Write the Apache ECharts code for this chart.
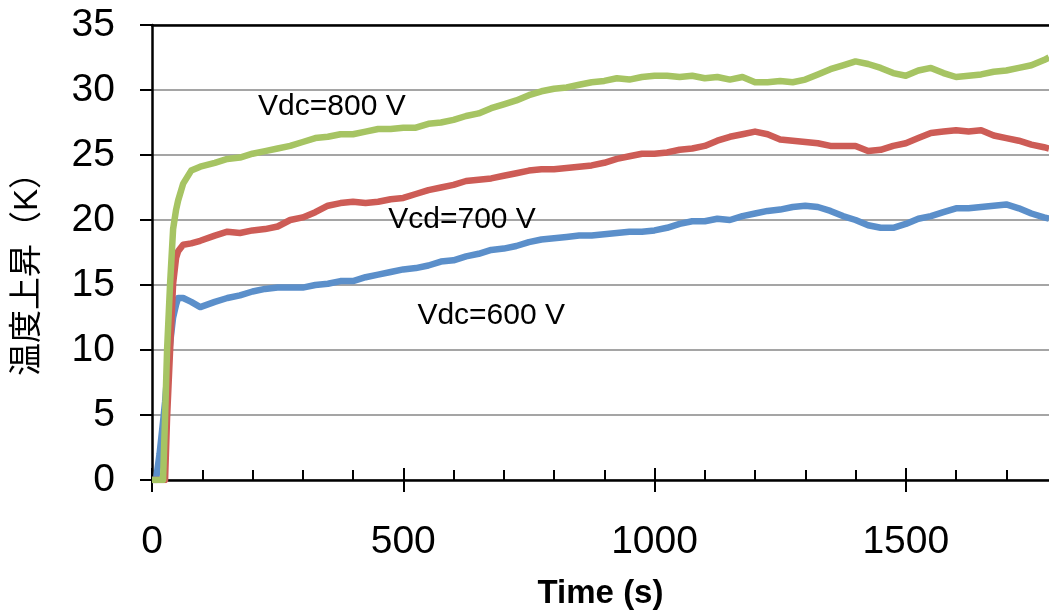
<!DOCTYPE html>
<html>
<head>
<meta charset="utf-8">
<script src="https://cdn.jsdelivr.net/npm/echarts@6/dist/echarts.min.js"></script>
<style>
  html, body { margin: 0; padding: 0; background: #fff; }
  #chart { width: 1049px; height: 612px; }
</style>
</head>
<body>
<div id="chart"></div>
<script>
// Sample times (s)
const times = [
  0, 8, 15, 22, 26, 30, 36, 42, 48, 52, 62, 78, 96, 125, 150,
  175, 200, 225, 250, 275, 300, 325, 350, 375, 400,
  425, 450, 475, 500, 525, 550, 575, 600, 625, 650,
  675, 700, 725, 750, 775, 800, 825, 850, 875, 900,
  925, 950, 975, 1000, 1025, 1050, 1075, 1100, 1125, 1150,
  1175, 1200, 1225, 1250, 1275, 1300, 1325, 1350, 1375, 1400,
  1425, 1450, 1475, 1500, 1525, 1550, 1575, 1600, 1625, 1650,
  1675, 1700, 1725, 1750, 1775, 1785
];

// Temperature rise (K), Vdc = 600 V
const rise600 = [
  0, 0, 2.0, 4.5, 6.0, 8.0, 10.5, 12.5, 13.5, 14.0, 14.0, 13.7, 13.3, 13.7, 14.0,
  14.2, 14.5, 14.7, 14.8, 14.8, 14.8, 15.0, 15.1, 15.3, 15.3,
  15.6, 15.8, 16.0, 16.2, 16.3, 16.5, 16.8, 16.9, 17.2, 17.4,
  17.7, 17.8, 18.0, 18.3, 18.5, 18.6, 18.7, 18.8, 18.8, 18.9,
  19.0, 19.1, 19.1, 19.2, 19.4, 19.7, 19.9, 19.9, 20.1, 20.0,
  20.3, 20.5, 20.7, 20.8, 21.0, 21.1, 21.0, 20.7, 20.3, 20.0,
  19.6, 19.4, 19.4, 19.7, 20.1, 20.3, 20.6, 20.9, 20.9, 21.0,
  21.1, 21.2, 20.9, 20.5, 20.2, 20.1
];

// Temperature rise (K), Vdc = 700 V
const rise700 = [
  0, 0, 0, 0, 0, 4.8, 10.0, 15.1, 17.1, 17.6, 18.1, 18.2, 18.4, 18.8, 19.1,
  19.0, 19.2, 19.3, 19.5, 20.0, 20.2, 20.6, 21.1, 21.3, 21.4,
  21.3, 21.4, 21.6, 21.7, 22.0, 22.3, 22.5, 22.7, 23.0, 23.1,
  23.2, 23.4, 23.6, 23.8, 23.9, 23.9, 24.0, 24.1, 24.2, 24.4,
  24.7, 24.9, 25.1, 25.1, 25.2, 25.4, 25.5, 25.7, 26.1, 26.4,
  26.6, 26.8, 26.6, 26.2, 26.1, 26.0, 25.9, 25.7, 25.7, 25.7,
  25.3, 25.4, 25.7, 25.9, 26.3, 26.7, 26.8, 26.9, 26.8, 26.9,
  26.5, 26.3, 26.1, 25.8, 25.6, 25.5
];

// Temperature rise (K), Vdc = 800 V
const rise800 = [
  0, 0, 0, 0, 4.8, 10.0, 15.1, 19.3, 20.8, 21.5, 22.8, 23.8, 24.1, 24.4, 24.7,
  24.8, 25.1, 25.3, 25.5, 25.7, 26.0, 26.3, 26.4, 26.6, 26.6,
  26.8, 27.0, 27.0, 27.1, 27.1, 27.4, 27.5, 27.7, 28.0, 28.2,
  28.6, 28.9, 29.2, 29.6, 29.9, 30.1, 30.2, 30.4, 30.6, 30.7,
  30.9, 30.8, 31.0, 31.1, 31.1, 31.0, 31.1, 30.9, 31.0, 30.8,
  31.0, 30.6, 30.6, 30.7, 30.6, 30.8, 31.2, 31.6, 31.9, 32.2,
  32.0, 31.7, 31.3, 31.1, 31.5, 31.7, 31.3, 31.0, 31.1, 31.2,
  31.4, 31.5, 31.7, 31.9, 32.3, 32.5
];

// Axis ticks
const xMajorTicks = [0, 500, 1000, 1500];
const xMinorTicks = [100, 200, 300, 400, 600, 700, 800, 900, 1100, 1200, 1300, 1400, 1600, 1700];

// In-plot annotations: [text, time, rise]
const annotations = [
  ['Vdc=800 V', 358, 28.7],
  ['Vcd=700 V', 617, 20.0],
  ['Vdc=600 V', 675, 12.6]
];

const FONT = "'Liberation Sans', Arial, 'Noto Sans CJK JP', sans-serif";
const toPairs = (ys) => times.map((t, i) => [t, ys[i]]);

function noteFor(idx) {
  const a = annotations[idx];
  return {
    symbol: 'rect',
    symbolSize: 1,
    silent: true,
    itemStyle: { color: 'transparent' },
    label: {
      show: true,
      position: 'inside',
      formatter: '{b}',
      color: '#000',
      fontSize: 30,
      fontFamily: FONT
    },
    data: [{ name: a[0], coord: [a[1], a[2]] }]
  };
}

function lineSeries(name, values, color, note) {
  return {
    name: name,
    type: 'line',
    data: toPairs(values),
    showSymbol: false,
    symbol: 'none',
    lineStyle: { color: color, width: 6.5, join: 'round' },
    itemStyle: { color: color },
    markPoint: note,
    z: 3
  };
}

const chart = echarts.init(document.getElementById('chart'), null, { renderer: 'canvas' });

const xBase = { type: 'value', min: 0, max: 1785, gridIndex: 0 };

chart.setOption({
  animation: false,
  backgroundColor: '#fff',
  grid: { left: 152, right: 0, top: 25, bottom: 132, containLabel: false, outerBoundsMode: 'none' },
  xAxis: [
    Object.assign({}, xBase, {
      position: 'bottom',
      name: 'Time (s)',
      nameLocation: 'middle',
      nameGap: 97,
      nameTextStyle: { fontSize: 33, fontWeight: 'bold', color: '#000', fontFamily: FONT },
      axisLine: { show: true, onZero: false, lineStyle: { color: '#000', width: 2.5 } },
      axisTick: { show: true, inside: true, length: 10, customValues: xMinorTicks, lineStyle: { color: '#000', width: 2 } },
      axisLabel: {
        show: true, customValues: xMajorTicks, margin: 43, fontSize: 39, color: '#000', fontFamily: FONT,
        formatter: (v) => String(v)
      },
      splitLine: { show: false }
    }),
    Object.assign({}, xBase, {
      position: 'bottom',
      axisLine: { show: false, onZero: false },
      axisTick: { show: true, inside: true, length: 12, customValues: xMajorTicks, lineStyle: { color: '#000', width: 2 } },
      axisLabel: { show: false },
      splitLine: { show: false }
    }),
    Object.assign({}, xBase, {
      position: 'bottom',
      axisLine: { show: false, onZero: false },
      axisTick: { show: true, inside: false, length: 12, customValues: xMajorTicks, lineStyle: { color: '#000', width: 2 } },
      axisLabel: { show: false },
      splitLine: { show: false }
    }),
    Object.assign({}, xBase, {
      position: 'top',
      axisLine: { show: true, onZero: false, lineStyle: { color: '#000', width: 2.5 } },
      axisTick: { show: false },
      axisLabel: { show: false },
      splitLine: { show: false }
    })
  ],
  yAxis: {
    type: 'value',
    min: 0,
    max: 35,
    interval: 5,
    position: 'left',
    axisLine: { show: true, onZero: false, lineStyle: { color: '#000', width: 2.5 } },
    axisTick: { show: true, inside: false, length: 12, lineStyle: { color: '#000', width: 2 } },
    axisLabel: { margin: 37, fontSize: 39, color: '#000', fontFamily: FONT, padding: [7, 0, 0, 0] },
    splitLine: { show: true, lineStyle: { color: '#a5a5a5', width: 2 } }
  },
  graphic: [{
    type: 'text',
    x: 28,
    y: 266,
    rotation: Math.PI / 2,
    style: {
      text: '温度上昇（K）',
      font: "33px 'Liberation Sans', 'Noto Sans CJK JP', sans-serif",
      fill: '#000',
      textAlign: 'center',
      textVerticalAlign: 'middle'
    }
  }],
  series: [
    lineSeries('Vdc=600 V', rise600, '#5b8fca', noteFor(2)),
    lineSeries('Vdc=700 V', rise700, '#cd5c56', noteFor(1)),
    lineSeries('Vdc=800 V', rise800, '#a6c463', noteFor(0))
  ]
});
</script>
</body>
</html>
